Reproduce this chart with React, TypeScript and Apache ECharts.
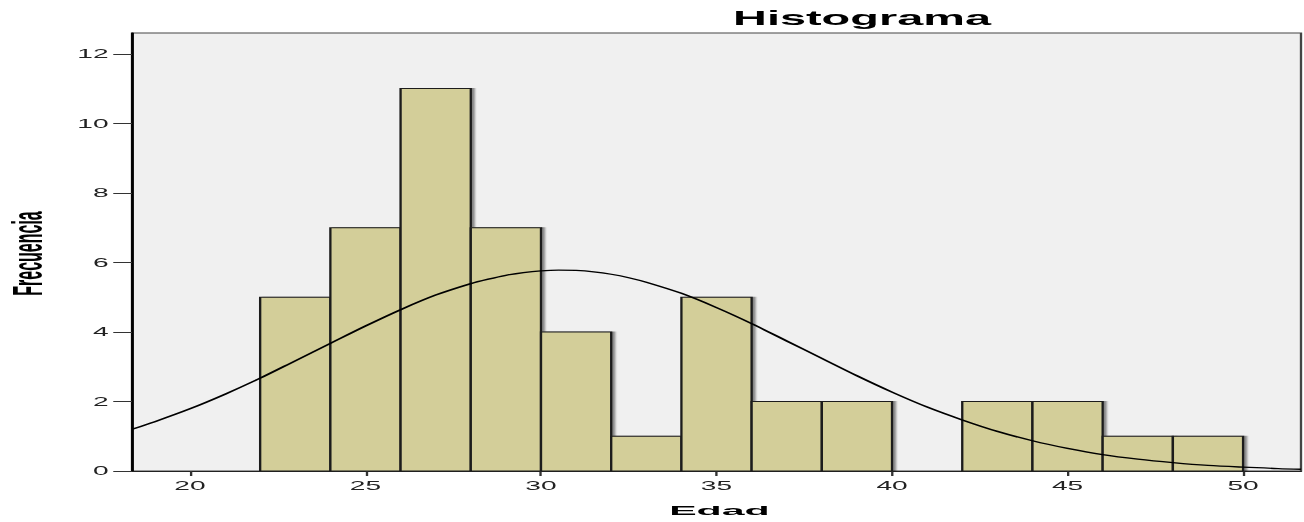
import React, { useEffect, useRef } from "react";
import * as echarts from "echarts";

// Histogram bins (Edad) and frequencies
const binStarts = [22, 24, 26, 28, 30, 32, 34, 36, 38, 40, 42, 44, 46, 48];
const binEnds = [24, 26, 28, 30, 32, 34, 36, 38, 40, 42, 44, 46, 48, 50];
const counts = [5, 7, 11, 7, 4, 1, 5, 2, 2, 0, 2, 2, 1, 1];

// Normal curve
const curveX = [18.35, 19, 20, 21, 22, 23, 24, 25, 26, 27, 28, 28.5, 29, 29.5, 30, 30.5, 31, 31.5, 32, 32.5, 33, 34, 35, 36, 37, 38, 39, 40, 41, 42, 43, 44, 45, 46, 47, 48, 49, 50, 51, 51.65];
const curveY = [1.2, 1.42, 1.79, 2.21, 2.67, 3.17, 3.67, 4.17, 4.64, 5.06, 5.39, 5.52, 5.63, 5.71, 5.76, 5.78, 5.77, 5.73, 5.66, 5.56, 5.43, 5.11, 4.7, 4.24, 3.74, 3.24, 2.74, 2.27, 1.84, 1.47, 1.14, 0.87, 0.65, 0.47, 0.34, 0.24, 0.16, 0.11, 0.07, 0.05];

// Axis ticks
const xTicks = [20, 25, 30, 35, 40, 45, 50];
const yTicks = [0, 2, 4, 6, 8, 10, 12];

const titleText = "Histograma";
const xName = "Edad";
const yName = "Frecuencia";

const STRETCH = 2.345;
const W = 556;
const H = 522;

export default function App() {
  const ref = useRef<HTMLDivElement>(null);

  useEffect(() => {
    if (!ref.current) return;
    const chart = echarts.init(ref.current, null, { renderer: "svg" });
    const barData = binStarts.map((s, i) => [s, binEnds[i], counts[i]]);
    const lineData = curveX.map((x, i) => [x, curveY[i]]);
    chart.setOption({
      animation: false,
      grid: {
        left: 56.3,
        right: 1.2,
        top: 33,
        bottom: 51,
        show: true,
        backgroundColor: "#f0f0f0",
        borderColor: "#444",
        borderWidth: 1,
      },
      xAxis: {
        type: "value",
        min: 18.35,
        max: 51.65,
        splitLine: { show: false },
        axisLine: { show: true, lineStyle: { color: "#222", width: 1 } },
        axisTick: {
          show: true,
          length: 5,
          customValues: xTicks,
          lineStyle: { color: "#333", width: 1 },
        },
        axisLabel: {
          customValues: xTicks,
          margin: 9,
          fontFamily: "Liberation Sans, Arial, sans-serif",
          fontSize: 12,
          color: "#222",
        },
      },
      yAxis: {
        type: "value",
        min: 0,
        max: 12.6,
        splitLine: { show: false },
        axisLine: { show: true, lineStyle: { color: "#000", width: 1.2 } },
        axisTick: {
          show: true,
          length: 8,
          customValues: yTicks,
          lineStyle: { color: "#333", width: 1 },
        },
        axisLabel: {
          customValues: yTicks,
          margin: 10,
          fontFamily: "Liberation Sans, Arial, sans-serif",
          fontSize: 12,
          color: "#222",
        },
      },
      graphic: [
        {
          type: "text",
          x: 367.6,
          y: 18.5,
          style: {
            text: titleText,
            fontFamily: "Liberation Sans, Arial, sans-serif",
            fontWeight: "bold",
            fontSize: 20,
            fill: "#000",
            align: "center",
            verticalAlign: "middle",
          },
        },
        {
          type: "text",
          x: 306.8,
          y: 510,
          scaleX: 1.35,
          style: {
            text: xName,
            fontFamily: "Liberation Sans, Arial, sans-serif",
            fontWeight: "bold",
            fontSize: 13,
            fill: "#000",
            align: "center",
            verticalAlign: "middle",
          },
        },
        {
          type: "text",
          x: 11.6,
          y: 253.5,
          rotation: Math.PI / 2,
          scaleY: 1.12,
          style: {
            text: yName,
            fontFamily: "Liberation Sans, Arial, sans-serif",
            fontWeight: "bold",
            fontSize: 16,
            fill: "#000",
            align: "center",
            verticalAlign: "middle",
          },
        },
      ],
      series: [
        {
          type: "custom",
          data: barData,
          encode: { x: [0, 1], y: 2 },
          z: 2,
          renderItem: (params: any, api: any) => {
            const c = api.value(2);
            if (!c) return null;
            const p0 = api.coord([api.value(0), c]);
            const p1 = api.coord([api.value(1), 0]);
            return {
              type: "rect",
              shape: { x: p0[0], y: p0[1], width: p1[0] - p0[0], height: p1[1] - p0[1] },
              style: {
                fill: "#d3ce99",
                stroke: "#1e1e1e",
                lineWidth: 1,
                shadowColor: "rgba(0,0,0,0.45)",
                shadowOffsetX: 1.2,
                shadowBlur: 1,
              },
            };
          },
        },
        {
          type: "line",
          data: lineData,
          smooth: 0.3,
          showSymbol: false,
          z: 5,
          lineStyle: { color: "#000", width: 1.3 },
        },
      ],
    });
    return () => chart.dispose();
  }, []);

  return (
    <div
      style={{
        position: "fixed",
        left: 0,
        top: 0,
        width: W * STRETCH,
        height: H,
        overflow: "hidden",
        background: "#fff",
      }}
    >
      <div
        ref={ref}
        style={{
          width: W,
          height: H,
          transform: `scaleX(${STRETCH})`,
          transformOrigin: "0 0",
        }}
      />
    </div>
  );
}
